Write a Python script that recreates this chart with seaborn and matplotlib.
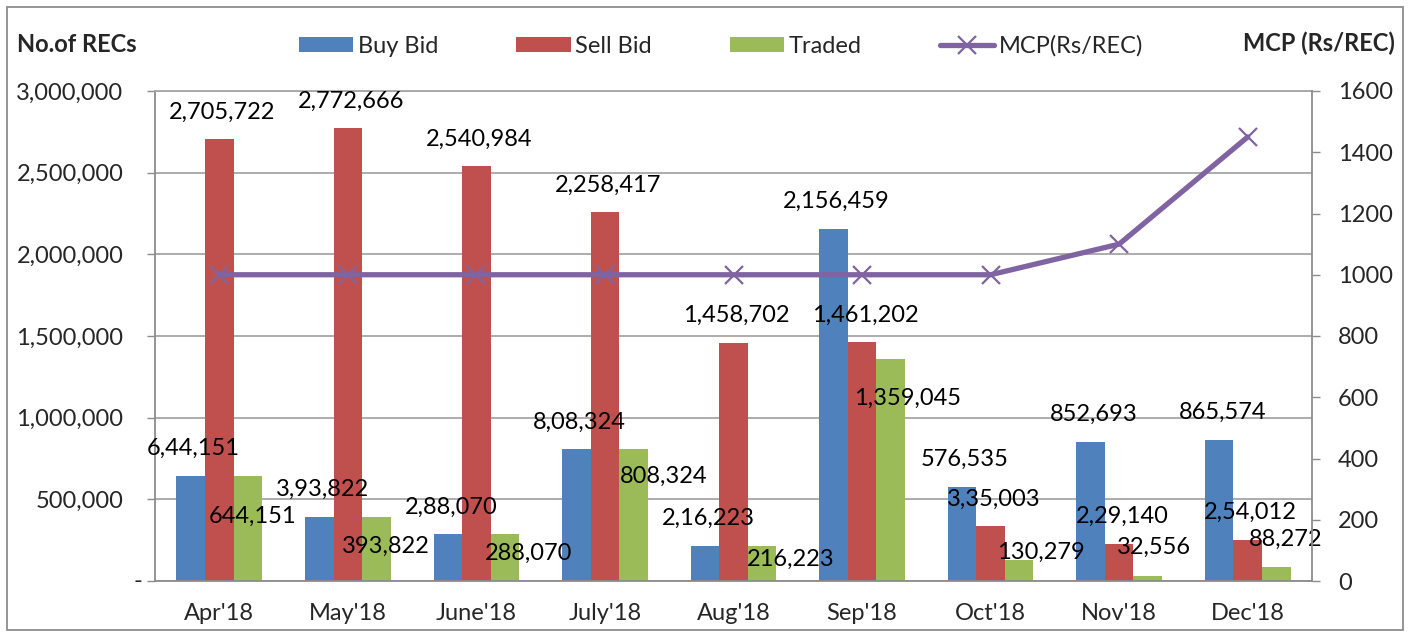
import numpy as np
import pandas as pd
import matplotlib
matplotlib.use("Agg")
import matplotlib.pyplot as plt
from matplotlib.patches import Patch, Rectangle
from matplotlib.lines import Line2D
import seaborn as sns

# chart data
months = ["Apr'18", "May'18", "June'18", "July'18", "Aug'18",
          "Sep'18", "Oct'18", "Nov'18", "Dec'18"]
buy_bid = [644151, 393822, 288070, 808324, 216223, 2156459, 576535, 852693, 865574]
sell_bid = [2705722, 2772666, 2540984, 2258417, 1458702, 1461202, 335003, 229140, 254012]
traded = [644151, 393822, 288070, 808324, 216223, 1359045, 130279, 32556, 88272]
mcp = [1000, 1000, 1000, 1000, 1000, 1000, 1000, 1100, 1450]

# label texts as printed on the chart
buy_labels = ["6,44,151", "3,93,822", "2,88,070", "8,08,324", "2,16,223",
              "2,156,459", "576,535", "852,693", "865,574"]
sell_labels = ["2,705,722", "2,772,666", "2,540,984", "2,258,417", "1,458,702",
               "1,461,202", "3,35,003", "2,29,140", "2,54,012"]
traded_labels = [f"{v:,}" for v in traded]

series = ["Buy Bid", "Sell Bid", "Traded"]
colors = ["#4F81BD", "#C0504D", "#9BBB59"]
purple = "#8064A2"
grey = "#8C8C8C"
grid_grey = "#A6A6A6"

df = pd.DataFrame({
    "month": months * 3,
    "series": np.repeat(series, len(months)),
    "count": buy_bid + sell_bid + traded,
})

sns.set_style("white")
plt.rcParams["font.family"] = ["Lato", "DejaVu Sans"]
FS = 17

fig = plt.figure(figsize=(14.15, 6.34), dpi=100)
ax = fig.add_axes([155 / 1415, 1 - 581 / 634, (1312 - 155) / 1415, (581 - 91) / 634])

sns.barplot(data=df, x="month", y="count", hue="series", order=months,
            hue_order=series, palette=colors, saturation=1, width=0.667,
            linewidth=0, legend=False, ax=ax)

ax.set_xlim(-0.5, len(months) - 0.5)
ax.set_ylim(0, 3000000)
yt = np.arange(0, 3000001, 500000)
ax.set_yticks(yt)
ax.set_yticklabels([f"{v:,}" if v else "" for v in yt], fontsize=FS)
ax.annotate("-", xy=(0, 0), xycoords=("axes fraction", "data"),
            xytext=(-17 * 0.72, 0), textcoords="offset points",
            ha="center", va="center", fontsize=FS)
ax.tick_params(axis="y", length=8 * 0.72, width=1, color=grey, pad=17, direction="out")
ax.set_xticks(range(len(months)))
ax.set_xticklabels(months, fontsize=FS)
ax.set_xticks(np.arange(-0.5, len(months)), minor=True)
ax.tick_params(axis="x", which="major", length=0, pad=16)
ax.tick_params(axis="x", which="minor", length=8 * 0.72, width=1.2, color=grey, direction="out")
ax.tick_params(left=True, bottom=True)
ax.set_xlabel("")
ax.set_ylabel("")
ax.yaxis.grid(True, color=grid_grey, lw=1.3)
ax.set_axisbelow(True)
for side in ["left", "bottom"]:
    ax.spines[side].set_color(grey)
    ax.spines[side].set_linewidth(1.3)
ax.spines["top"].set_color(grid_grey)
ax.spines["top"].set_linewidth(1.3)
ax.spines["right"].set_visible(False)

# data labels
px = 0.72
traded_off = [(5, -41), (9, -30), (24, -19), (30, -27), (29, -14),
              (17, -39), (22, 7), (6, 28), (9, 27)]
for ci, cont in enumerate(ax.containers):
    for i, bar in enumerate(cont.patches):
        xc = bar.get_x() + bar.get_width() / 2
        h = bar.get_height()
        if ci == 0:
            txt, dx, dy = buy_labels[i], 3, 27
        elif ci == 1:
            txt, dx, dy = sell_labels[i], 3, 27
        else:
            txt = traded_labels[i]
            dx, dy = traded_off[i]
        ax.annotate(txt, xy=(xc, h), xytext=(dx * px, dy * px),
                    textcoords="offset points", ha="center", va="center",
                    fontsize=FS, color="black", zorder=5)

# MCP line on the secondary axis
ax2 = ax.twinx()
sns.lineplot(x=np.arange(len(months)), y=mcp, ax=ax2, color=purple, lw=3.8,
             marker="x", markersize=13, markeredgewidth=1.6,
             markeredgecolor=purple, legend=False)
ax2.set_ylim(0, 1600)
ax2.set_yticks(np.arange(0, 1601, 200))
ax2.set_yticklabels([str(v) for v in range(0, 1601, 200)], fontsize=FS)
ax2.tick_params(axis="y", length=8 * 0.72, width=1, color=grey, pad=13, direction="out")
ax2.tick_params(right=True)
for side in ["left", "top", "bottom"]:
    ax2.spines[side].set_visible(False)
ax2.spines["right"].set_color(grey)
ax2.spines["right"].set_linewidth(1.3)
ax2.set_ylabel("")
ax2.set_xlim(-0.5, len(months) - 0.5)

# axis titles
fig.text(17 / 1415, 1 - 45 / 634, "No.of RECs", fontsize=FS, fontweight="bold",
         ha="left", va="center")
fig.text(1395 / 1415, 1 - 43 / 634, "MCP (Rs/REC)", fontsize=FS, fontweight="bold",
         ha="right", va="center")

# legend
handles = [Patch(facecolor=c, edgecolor="none") for c in colors]
handles.append(Line2D([], [], color=purple, lw=3.8, marker="x", markersize=13,
                      markeredgewidth=1.6))
fig.legend(handles, series + ["MCP(Rs/REC)"], loc="center",
           bbox_to_anchor=(721 / 1415, 1 - 46 / 634), ncol=4, frameon=False,
           fontsize=FS, handlelength=2.3, handleheight=0.65, handletextpad=0.2,
           columnspacing=3.3)

# outer border
fig.patches.append(Rectangle((7 / 1415, 4 / 634), (1403 - 7) / 1415, (630 - 7) / 634,
                             transform=fig.transFigure, fill=False,
                             edgecolor=grey, lw=1.3))

fig.savefig("out.png", dpi=100)
